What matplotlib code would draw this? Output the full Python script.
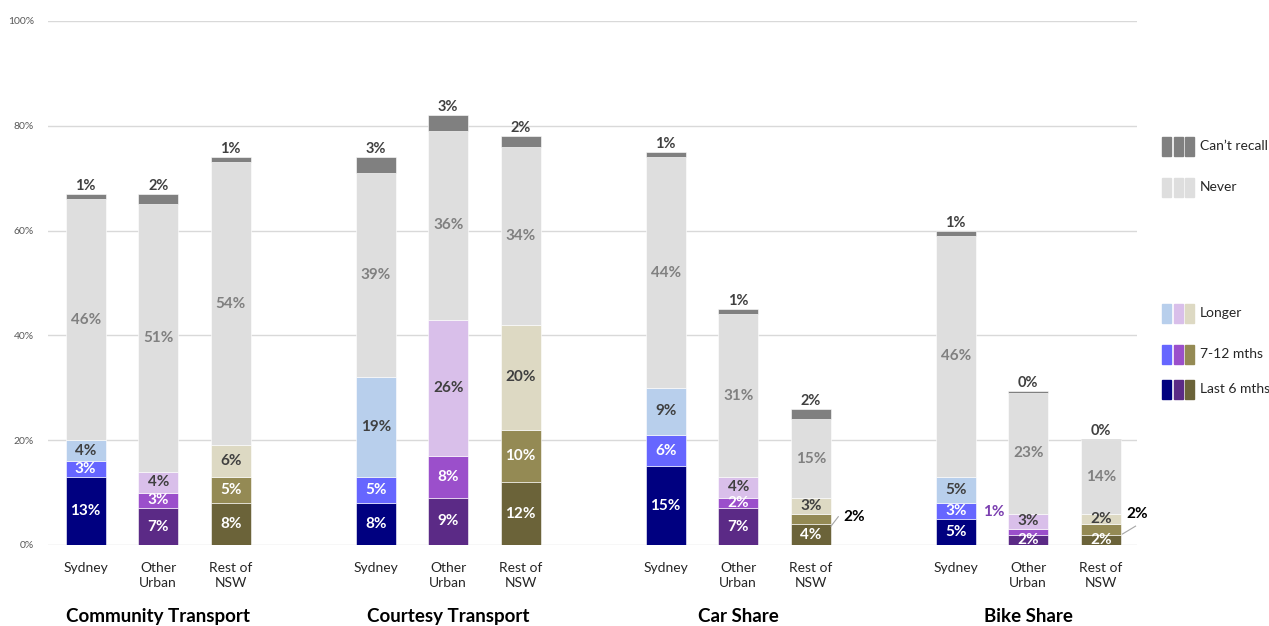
import matplotlib
matplotlib.use("Agg")
import matplotlib.pyplot as plt
from matplotlib.patches import Rectangle

plt.rcParams['font.family'] = ['Lato', 'DejaVu Sans']

# survey: last use of each shared / community transport mode, by region
modes = ["Community Transport", "Courtesy Transport", "Car Share", "Bike Share"]
regions = ["Sydney", "Other\nUrban", "Rest of\nNSW"]
layers = ["Last 6 mths", "7-12 mths", "Longer", "Never", "Can\u2019t recall"]

last6 = [13, 7, 8, 8, 9, 12, 15, 7, 4, 5, 2, 2]
mid = [3, 3, 5, 5, 8, 10, 6, 2, 2, 3, 1, 2]
longer = [4, 4, 6, 19, 26, 20, 9, 4, 3, 5, 3, 2]
never = [46, 51, 54, 39, 36, 34, 44, 31, 15, 46, 23, 14]
cant = [1, 2, 1, 3, 3, 2, 1, 1, 2, 1, 0.3, 0.3]

# colours per region (Sydney, Other Urban, Rest of NSW)
region_cols = {
    "Last 6 mths": ["#000080", "#5B2A86", "#6B6339"],
    "7-12 mths": ["#6666FF", "#9B4FCB", "#948A54"],
    "Longer": ["#B8CFEC", "#D9BFEA", "#DDD9C3"],
    "Never": ["#DEDEDE"] * 3,
    "Can\u2019t recall": ["#808080"] * 3,
}
label_cols = {
    "Last 6 mths": "white",
    "7-12 mths": "white",
    "Longer": "#404040",
    "Never": "#808080",
}

fig = plt.figure(figsize=(12.69, 6.26), dpi=100)
ax = fig.add_axes([48 / 1269, 81 / 626, 1089 / 1269, 524 / 626])

n = len(last6)
xpos = [(i // 3) * 4 + (i % 3) for i in range(n)]
series = [last6, mid, longer, never, cant]
bottoms = [0.0] * n
width = 0.55

# bars whose label is placed outside the segment
outside = {("7-12 mths", 8), ("7-12 mths", 10), ("7-12 mths", 11)}

for name, vals in zip(layers, series):
    cols = [region_cols[name][i % 3] for i in range(n)]
    ax.bar(xpos, vals, width, bottom=bottoms, color=cols, zorder=3,
           edgecolor="white", linewidth=0.4)
    for i in range(n):
        v = vals[i]
        lab = f"{v:.0f}%"
        if name == "Can\u2019t recall":
            ax.text(xpos[i], bottoms[i] + v + 0.2, lab, ha="center", va="bottom",
                    fontsize=10.5, fontweight="bold", color="#404040", zorder=5)
        elif (name, i) not in outside:
            ax.text(xpos[i], bottoms[i] + v / 2, lab, ha="center", va="center",
                    fontsize=11, fontweight="bold", color=label_cols[name], zorder=5)
    bottoms = [b + v for b, v in zip(bottoms, vals)]

# small 7-12 mths segments labelled beside the bar
ax.plot([10.28, 10.38], [3.6, 5.4], color="#A6A6A6", lw=0.8, zorder=4)
ax.text(10.45, 5.3, f"{mid[8]:.0f}%", ha="left", va="center", fontsize=11,
        fontweight="bold", color="black")
ax.plot([14.3, 14.48], [2.1, 3.6], color="#A6A6A6", lw=0.8, zorder=4, clip_on=False)
ax.text(14.5, 5.9, f"{mid[11]:.0f}%", ha="center", va="center", fontsize=11,
        fontweight="bold", color="black", clip_on=False)
ax.text(12.68, 6.3, f"{mid[10]:.0f}%", ha="right", va="center", fontsize=11,
        fontweight="bold", color="#7B3FB0")

ax.set_xlim(-0.52, 14.5)
ax.set_ylim(0, 100)
ax.set_yticks(range(0, 101, 20))
ax.set_yticklabels([f"{t}%" for t in range(0, 101, 20)], fontsize=7.5, color="#595959")
ax.set_xticks(xpos)
ax.set_xticklabels([regions[i % 3] for i in range(n)], fontsize=10, color="#262626",
                   linespacing=1.3)
ax.tick_params(axis="both", length=0)
ax.tick_params(axis="x", pad=12)
ax.tick_params(axis="y", pad=10)
ax.grid(axis="y", color="#D9D9D9", lw=1, zorder=0)
for s in ax.spines.values():
    s.set_visible(False)

for g, m in enumerate(modes):
    ax.text(g * 4 + 1, -13.6, m, ha="center", va="center", fontsize=13.5,
            fontweight="bold", color="black", clip_on=False)

# legend: one swatch per region for each category
leg = fig.add_axes([0, 0, 1, 1])
leg.set_xlim(0, 1269)
leg.set_ylim(626, 0)
leg.axis("off")
leg_rows = {"Can\u2019t recall": 146, "Never": 187, "Longer": 313,
            "7-12 mths": 354, "Last 6 mths": 389}
for name, yc in leg_rows.items():
    for k, x0 in enumerate([1162, 1174, 1185]):
        leg.add_patch(Rectangle((x0, yc - 9.5), 9, 19, color=region_cols[name][k]))
    leg.text(1200, yc, name, ha="left", va="center", fontsize=10, color="#262626")

fig.savefig("out.png", dpi=100)
